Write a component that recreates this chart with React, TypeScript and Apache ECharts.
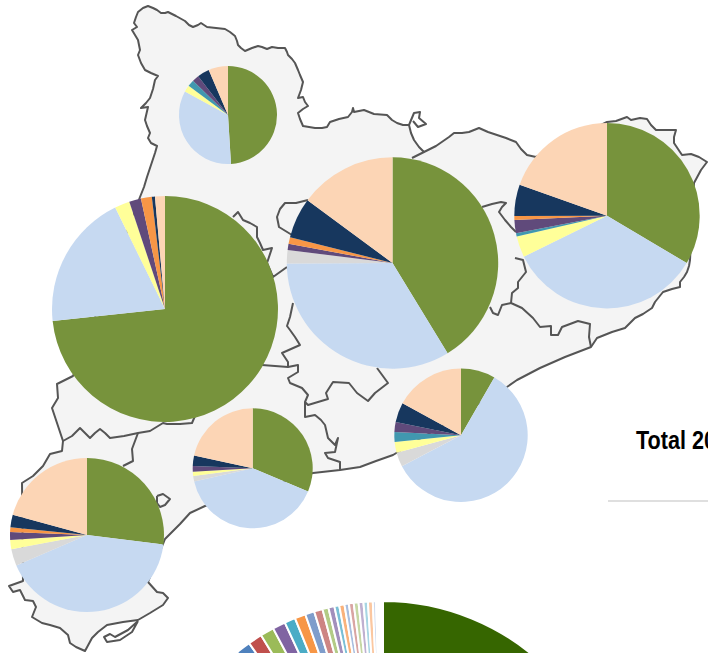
import React, { useEffect, useRef } from "react";
import * as echarts from "echarts";

// Slice colours shared by the seven map pies, clockwise from 12 o'clock
const sliceColors = ["#77933C", "#C6D9F1", "#D9D9D9", "#FFFF99", "#4198AF", "#604A7B", "#F79646", "#17375E", "#FCD5B5"];

// Values (degrees of the circle) in sliceColors' order
const pieTop = [176.5, 122, 0, 8, 8, 8, 0, 14.4, 23.1];
const pieWest = [263.7, 69.9, 0, 7.7, 0, 6.1, 5.6, 1.6, 5.1];
const pieCentre = [148.7, 121.3, 7.3, 0, 0, 3.4, 3.7, 22.3, 53.6];
const pieEast = [120.7, 123, 0, 13.2, 2.1, 8.3, 2.5, 19.7, 70.4];
const pieSouthMid = [112.7, 144.5, 5.5, 4.1, 0, 5.4, 0, 10.2, 77.6];
const pieSouthWest = [97, 149.7, 12.6, 7, 0, 5.9, 3.5, 9.6, 74.7];
const pieCoast = [30, 212.4, 12.5, 9.4, 8.6, 8.6, 0, 17.2, 61.3];

// Total pie at the foot of the page
const totalValues = [280, 41.4, 3.7, 3.5, 3.4, 3.2, 2.7, 2.7, 2.3, 2.1, 1.5, 1.5, 1.2, 1.3, 1.1, 1.2, 1.2, 1.2, 1.1, 1.2, 0.8, 1.7];
const totalColors = ["#366600", "#F79646", "#4F81BD", "#C0504D", "#9BBB59", "#8064A2", "#4BACC6", "#F79646", "#7F9DCB", "#CD8583", "#B3CB86", "#A28FBC", "#7ABFD6", "#F9B27C", "#A8BEDF", "#D9A5A3", "#C6D7A4", "#BFB0D0", "#A7D5E3", "#FBC7A0", "#CDD8EC", "#FFFFFF"];

const titleText = "Total 20";

// Pie placement: centre x, centre y, radius
const pieLayout: [number[], number, number, number][] = [
  [pieTop, 228, 115, 49],
  [pieWest, 165, 309, 113],
  [pieCentre, 392.5, 263, 105.7],
  [pieEast, 607, 215.7, 92.7],
  [pieSouthMid, 252.7, 468.3, 60],
  [pieSouthWest, 87, 535, 77],
  [pieCoast, 461, 435.3, 66.7],
];

// Map geometry (decorative background)
const outline = [
  [138,12],[143,8],[148,6],[153,8],[157,10],[161,13],[165,13],[168,12],[176,16],[185,21],[189,25],[193,27],[198,25],[201,23],[204,25],[207,27],[216,28],[225,29],[230,32],[235,36],[237,41],[238,45],[241,48],[245,51],[252,48],[258,46],[262,47],[267,49],[272,47],[278,48],[285,48],[287,52],[288,55],[292,59],[295,63],[298,70],[300,75],[303,82],[301,90],[298,98],[303,97],[305,102],[308,106],[303,109],[298,113],[300,119],[303,126],[309,127],[315,128],[322,128],[327,127],[330,122],[339,119],[348,117],[352,112],[353,108],[354,112],[364,110],[374,114],[387,115],[392,120],[397,123],[403,125],[409,125],[411,133],[414,140],[419,147],[424,152],[436,146],[449,137],[454,133],[462,133],[469,132],[479,128],[488,132],[497,135],[506,138],[516,142],[521,149],[527,155],[536,157],[607,122],[616,121],[627,117],[631,120],[640,118],[647,119],[651,125],[656,130],[666,130],[676,130],[674,137],[674,143],[678,149],[682,155],[691,154],[699,157],[707,162],[701,170],[694,183],[690,260],[689,266],[687,272],[684,277],[680,282],[680,287],[672,289],[663,292],[659,297],[655,302],[652,308],[643,314],[635,318],[630,323],[625,328],[612,332],[597,338],[591,347],[565,357],[540,368],[517,380],[507,387],[393,455],[376,461],[360,467],[340,470],[313,473],[205,506],[190,513],[180,524],[165,539],[148,582],[157,592],[163,593],[168,598],[163,605],[150,613],[138,620],[123,622],[107,625],[98,632],[92,638],[85,651],[76,647],[70,643],[68,635],[60,628],[50,625],[42,623],[32,617],[36,607],[33,601],[25,600],[20,590],[13,592],[9,586],[23,581],[22,483],[33,476],[43,466],[50,454],[62,451],[63,441],[58,426],[52,408],[58,398],[57,384],[73,376],[140,197],[144,187],[147,177],[151,165],[155,153],[157,146],[151,143],[148,138],[150,133],[147,126],[145,120],[148,107],[141,108],[146,103],[150,98],[153,89],[155,80],[158,76],[151,73],[145,70],[141,63],[138,55],[140,50],[138,40],[135,35],[132,30],[137,27],[134,23],[136,17],
];
const innerLines = [
  [[233,217],[238,212],[243,220],[250,223],[257,227],[257,237],[260,243],[263,250],[272,248],[267,263],[273,277],[287,267]],
  [[308,200],[296,203],[285,203],[280,209],[277,217],[279,227],[292,235]],
  [[293,303],[290,317],[287,326],[290,330],[295,337],[300,345],[282,353],[288,362],[288,367],[298,365],[298,372],[288,378],[290,383],[302,388],[308,395],[305,402],[308,405],[328,399],[326,393],[333,382],[349,383],[357,393],[368,401],[375,393],[388,383],[377,368]],
  [[305,402],[305,417],[315,415],[321,420],[325,425],[328,438],[335,445],[338,438],[335,452],[325,453],[328,458],[340,462],[340,470]],
  [[262,365],[275,366],[288,367]],
  [[63,441],[72,436],[80,428],[85,433],[90,438],[95,433],[100,429],[105,433],[110,438],[124,436],[138,433],[150,431],[163,423],[167,424],[180,424],[192,423],[195,416]],
  [[138,433],[132,449],[133,461],[123,466]],
  [[157,496],[163,494],[170,499],[165,505],[160,507],[157,503],[157,496]],
  [[482,207],[492,204],[501,202],[506,203],[502,207],[499,212],[505,220],[511,227],[516,232]],
  [[515,258],[523,260],[526,272],[518,282],[518,288],[512,293],[511,303],[522,308],[533,318],[540,327],[551,326],[551,335],[558,335],[562,327],[578,321],[590,324],[589,337],[591,347]],
  [[511,303],[502,305],[498,315],[493,313],[490,307]],
  [[409,125],[414,113],[420,112],[419,118],[426,124],[418,127],[413,121]],
  [[424,152],[412,158]],
  [[138,621],[132,632],[120,640],[107,642],[104,637],[110,634],[115,637],[128,630],[138,621]],
];

export default function App() {
  const ref = useRef<HTMLDivElement>(null);
  useEffect(() => {
    const chart = echarts.init(ref.current!, undefined, { renderer: "svg" });
    const mapLine = { stroke: "#555555", lineWidth: 2, fill: "none", lineJoin: "round" };
    chart.setOption({
      animation: false,
      backgroundColor: "#FFFFFF",
      graphic: [
        { type: "polygon", z: 0, shape: { points: outline }, style: { fill: "#F4F4F4", stroke: "#555555", lineWidth: 2, lineJoin: "round" } },
        ...innerLines.map((points) => ({ type: "polyline", z: 0, shape: { points }, style: mapLine })),
        { type: "line", z: 0, shape: { x1: 608, y1: 501, x2: 708, y2: 501 }, style: { stroke: "#BFBFBF", lineWidth: 1.2 } },
        {
          type: "text", z: 5, x: 636, y: 427, scaleX: 0.83,
          style: { text: titleText, fill: "#000000", font: "bold 26px 'Liberation Sans', Arial, sans-serif" },
        },
      ],
      series: [
        ...pieLayout.map(([values, cx, cy, r]) => ({
          type: "pie",
          center: [cx, cy],
          radius: [0, r],
          startAngle: 90,
          clockwise: true,
          silent: true,
          avoidLabelOverlap: false,
          label: { show: false },
          labelLine: { show: false },
          data: values.map((value, i) => ({ value, itemStyle: { color: sliceColors[i] } })),
        })),
        {
          type: "pie",
          center: [383, 835],
          radius: [0, 234],
          startAngle: 90,
          clockwise: true,
          silent: true,
          avoidLabelOverlap: false,
          label: { show: false },
          labelLine: { show: false },
          data: totalValues.map((value, i) => ({
            value,
            itemStyle: { color: totalColors[i], borderColor: "#FFFFFF", borderWidth: 2 },
          })),
        },
      ],
    });
    return () => chart.dispose();
  }, []);
  return <div ref={ref} style={{ position: "absolute", left: 0, top: 0, width: 708, height: 653 }} />;
}
